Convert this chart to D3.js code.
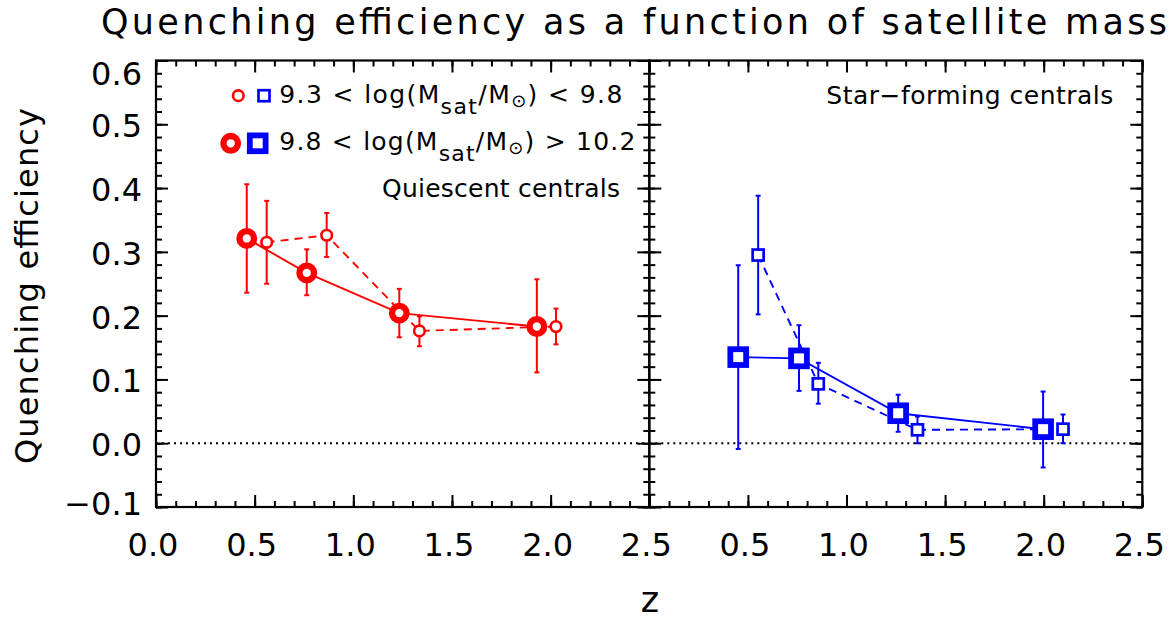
<!DOCTYPE html>
<html>
<head>
<meta charset="utf-8">
<script src="https://cdn.jsdelivr.net/npm/d3@7"></script>
<style>
  body { margin: 0; background: #fff; }
  text { font-family: "DejaVu Sans", sans-serif; fill: #000; }
</style>
</head>
<body>
<div id="chart"></div>
<script>
// --- data ---
const xTickLabels = ["0.0", "0.5", "1.0", "1.5", "2.0", "2.5"];
const yTickValues = [-0.1, 0.0, 0.1, 0.2, 0.3, 0.4, 0.5, 0.6];

// quiescent centrals (red circles)
const zLargeQ   = [0.460, 0.764, 1.233, 1.930];
const effLargeQ = [0.321, 0.267, 0.204, 0.183];
const loLargeQ  = [0.236, 0.232, 0.166, 0.111];
const hiLargeQ  = [0.406, 0.304, 0.242, 0.257];
const zSmallQ   = [0.561, 0.865, 1.335, 2.027];
const effSmallQ = [0.315, 0.326, 0.176, 0.183];
const loSmallQ  = [0.250, 0.292, 0.152, 0.155];
const hiSmallQ  = [0.380, 0.361, 0.199, 0.211];

// star-forming centrals (blue squares)
const zLargeSF   = [0.451, 0.759, 1.262, 1.997];
const effLargeSF = [0.135, 0.133, 0.047, 0.022];
const loLargeSF  = [-0.009, 0.082, 0.018, -0.038];
const hiLargeSF  = [0.279, 0.185, 0.076, 0.081];
const zSmallSF   = [0.552, 0.857, 1.360, 2.098];
const effSmallSF = [0.295, 0.093, 0.021, 0.022];
const loSmallSF  = [0.202, 0.062, 0.000, 0.000];
const hiSmallSF  = [0.388, 0.126, 0.042, 0.045];

const W = 1175, H = 620;
const RED = "#ff0000", BLUE = "#0000ff";

const svg = d3.select("#chart").append("svg")
  .attr("width", W).attr("height", H)
  .style("display", "block");

const xLeft = d3.scaleLinear().domain([0, 2.5]).range([156, 649.3]);
const xRight = d3.scaleLinear().domain([0, 2.5]).range([649.3, 1142.3]);
const y = d3.scaleLinear().domain([-0.1, 0.6]).range([507, 60.5]);

const rows = (z, v, lo, hi) => z.map((d, i) => ({ z: d, v: v[i], lo: lo[i], hi: hi[i] }));

// title
svg.append("text")
  .attr("x", 634).attr("y", 34)
  .attr("text-anchor", "middle")
  .attr("font-size", 35)
  .attr("textLength", 1066).attr("lengthAdjust", "spacing")
  .text("Quenching efficiency as a function of satellite mass");

// y title
svg.append("text")
  .attr("transform", "translate(38,286) rotate(-90)")
  .attr("text-anchor", "middle")
  .attr("font-size", 32)
  .attr("textLength", 356).attr("lengthAdjust", "spacing")
  .text("Quenching efficiency");

// x title
svg.append("text")
  .attr("x", 650).attr("y", 612)
  .attr("text-anchor", "middle")
  .attr("font-size", 35)
  .text("z");

function drawPanel(x, showX0) {
  const g = svg.append("g");
  const [xa, xb] = x.range();
  const [yb, ya] = y.range();

  // zero line
  g.append("line")
    .attr("x1", xa).attr("x2", xb)
    .attr("y1", y(0)).attr("y2", y(0))
    .attr("stroke", "#000").attr("stroke-width", 2)
    .attr("stroke-dasharray", "2,4");

  const tickStyle = sel => {
    sel.select(".domain").remove();
    sel.selectAll("line").attr("stroke", "#000").attr("stroke-width", 2);
    sel.selectAll("text").remove();
  };
  const xMinor = d3.range(0, 2.51, 0.1);
  const xMajor = d3.range(0, 2.51, 0.5);
  const yMinor = d3.range(-0.1, 0.601, 0.02);
  const yMajor = d3.range(-0.1, 0.601, 0.1);

  g.append("g").attr("transform", `translate(0,${yb})`)
    .call(d3.axisBottom(x).tickValues(xMinor).tickSize(-6)).call(tickStyle);
  g.append("g").attr("transform", `translate(0,${yb})`)
    .call(d3.axisBottom(x).tickValues(xMajor).tickSize(-12)).call(tickStyle);
  g.append("g").attr("transform", `translate(0,${ya})`)
    .call(d3.axisTop(x).tickValues(xMinor).tickSize(-6)).call(tickStyle);
  g.append("g").attr("transform", `translate(0,${ya})`)
    .call(d3.axisTop(x).tickValues(xMajor).tickSize(-12)).call(tickStyle);
  g.append("g").attr("transform", `translate(${xa},0)`)
    .call(d3.axisLeft(y).tickValues(yMinor).tickSize(-6)).call(tickStyle);
  g.append("g").attr("transform", `translate(${xa},0)`)
    .call(d3.axisLeft(y).tickValues(yMajor).tickSize(-12)).call(tickStyle);
  g.append("g").attr("transform", `translate(${xb},0)`)
    .call(d3.axisRight(y).tickValues(yMinor).tickSize(-6)).call(tickStyle);
  g.append("g").attr("transform", `translate(${xb},0)`)
    .call(d3.axisRight(y).tickValues(yMajor).tickSize(-12)).call(tickStyle);

  g.append("rect")
    .attr("x", xa).attr("y", ya)
    .attr("width", xb - xa).attr("height", yb - ya)
    .attr("fill", "none").attr("stroke", "#000").attr("stroke-width", 2.2);

  // x tick labels
  g.selectAll(".xl")
    .data(xTickLabels.filter((d, i) => showX0 || i > 0))
    .join("text")
    .attr("x", d => x(+d) - 3)
    .attr("y", 556)
    .attr("text-anchor", "middle")
    .attr("font-size", 32)
    .text(d => d);
  return g;
}

const gL = drawPanel(xLeft, true);
const gR = drawPanel(xRight, false);

// y tick labels (left panel only); IDL nudges the end labels inside the frame
svg.selectAll(".yl")
  .data(yTickValues)
  .join("text")
  .attr("x", 142)
  .attr("y", d => Math.min(Math.max(y(d) + 13, y(0.6) + 24), y(-0.1) + 8))
  .attr("text-anchor", "end")
  .attr("font-size", 32)
  .text(d => d < 0 ? "\u2212" + Math.abs(d).toFixed(1) : d.toFixed(1));

function drawSeries(g, x, data, color, dashed) {
  const line = d3.line().x(d => x(d.z)).y(d => y(d.v));
  g.append("path").datum(data)
    .attr("d", line)
    .attr("fill", "none").attr("stroke", color)
    .attr("stroke-width", 1.9)
    .attr("stroke-dasharray", dashed ? "8,6" : null);
  return () => {
    const eb = g.append("g").attr("stroke", color).attr("stroke-width", 2);
    eb.selectAll("line.v").data(data).join("line")
      .attr("x1", d => x(d.z)).attr("x2", d => x(d.z))
      .attr("y1", d => y(d.lo)).attr("y2", d => y(d.hi));
    eb.selectAll("line.lo").data(data).join("line")
      .attr("x1", d => x(d.z) - 2.5).attr("x2", d => x(d.z) + 2.5)
      .attr("y1", d => y(d.lo)).attr("y2", d => y(d.lo));
    eb.selectAll("line.hi").data(data).join("line")
      .attr("x1", d => x(d.z) - 2.5).attr("x2", d => x(d.z) + 2.5)
      .attr("y1", d => y(d.hi)).attr("y2", d => y(d.hi));
  };
}

function drawMarkers(g, x, data, color, kind, big) {
  if (kind === "circle") {
    g.selectAll(null).data(data).join("circle")
      .attr("cx", d => x(d.z)).attr("cy", d => y(d.v))
      .attr("r", big ? 7.3 : 5.3)
      .attr("fill", "#fff").attr("stroke", color)
      .attr("stroke-width", big ? 6.3 : 2.6);
  } else {
    const s = big ? 15.8 : 11;
    g.selectAll(null).data(data).join("rect")
      .attr("x", d => x(d.z) - s / 2).attr("y", d => y(d.v) - s / 2)
      .attr("width", s).attr("height", s)
      .attr("fill", "#fff").attr("stroke", color)
      .attr("stroke-width", big ? 5.8 : 2.7);
  }
}

const seriesQ = [
  [rows(zSmallQ, effSmallQ, loSmallQ, hiSmallQ), true, false],
  [rows(zLargeQ, effLargeQ, loLargeQ, hiLargeQ), false, true]
];
const seriesSF = [
  [rows(zSmallSF, effSmallSF, loSmallSF, hiSmallSF), true, false],
  [rows(zLargeSF, effLargeSF, loLargeSF, hiLargeSF), false, true]
];

[[gL, xLeft, seriesQ, RED, "circle"], [gR, xRight, seriesSF, BLUE, "square"]].forEach(([g, x, ser, color, kind]) => {
  const ebs = ser.map(([d, dashed]) => drawSeries(g, x, d, color, dashed));
  ebs.forEach(f => f());
  ser.forEach(([d, dashed, big]) => drawMarkers(g, x, d, color, kind, big));
});

// legend
const leg = svg.append("g");
leg.append("circle").attr("cx", 238.3).attr("cy", 95.7).attr("r", 5.3)
  .attr("fill", "#fff").attr("stroke", RED).attr("stroke-width", 2.6);
leg.append("rect").attr("x", 264 - 5.5).attr("y", 95.7 - 5.5).attr("width", 11).attr("height", 11)
  .attr("fill", "#fff").attr("stroke", BLUE).attr("stroke-width", 2.7);
leg.append("circle").attr("cx", 230.7).attr("cy", 143.3).attr("r", 7.3)
  .attr("fill", "#fff").attr("stroke", RED).attr("stroke-width", 6.3);
leg.append("rect").attr("x", 257.7 - 7.9).attr("y", 143.3 - 7.9).attr("width", 15.8).attr("height", 15.8)
  .attr("fill", "#fff").attr("stroke", BLUE).attr("stroke-width", 5.8);

function legendText(yb, lo, op, hi, len) {
  const t = leg.append("text")
    .attr("x", 279.3).attr("y", yb)
    .attr("font-size", 25)
    .attr("textLength", len).attr("lengthAdjust", "spacing");
  t.append("tspan").text(lo + " < log(M");
  t.append("tspan").attr("dy", 11).attr("font-size", 22).text("sat");
  t.append("tspan").attr("dy", -11).text("/M");
  t.append("tspan").attr("dy", 4).attr("font-size", 18).text("\u2299");
  t.append("tspan").attr("dy", -4).text(") " + op + " " + hi);
}
legendText(103.3, "9.3", "<", "9.8", 343);
legendText(150, "9.8", ">", "10.2", 356);

svg.append("text")
  .attr("x", 620).attr("y", 196.7)
  .attr("text-anchor", "end")
  .attr("font-size", 25)
  .attr("textLength", 238).attr("lengthAdjust", "spacing")
  .text("Quiescent centrals");

svg.append("text")
  .attr("x", 1113.3).attr("y", 104.3)
  .attr("text-anchor", "end")
  .attr("font-size", 25)
  .attr("textLength", 287).attr("lengthAdjust", "spacing")
  .text("Star\u2212forming centrals");
</script>
</body>
</html>
